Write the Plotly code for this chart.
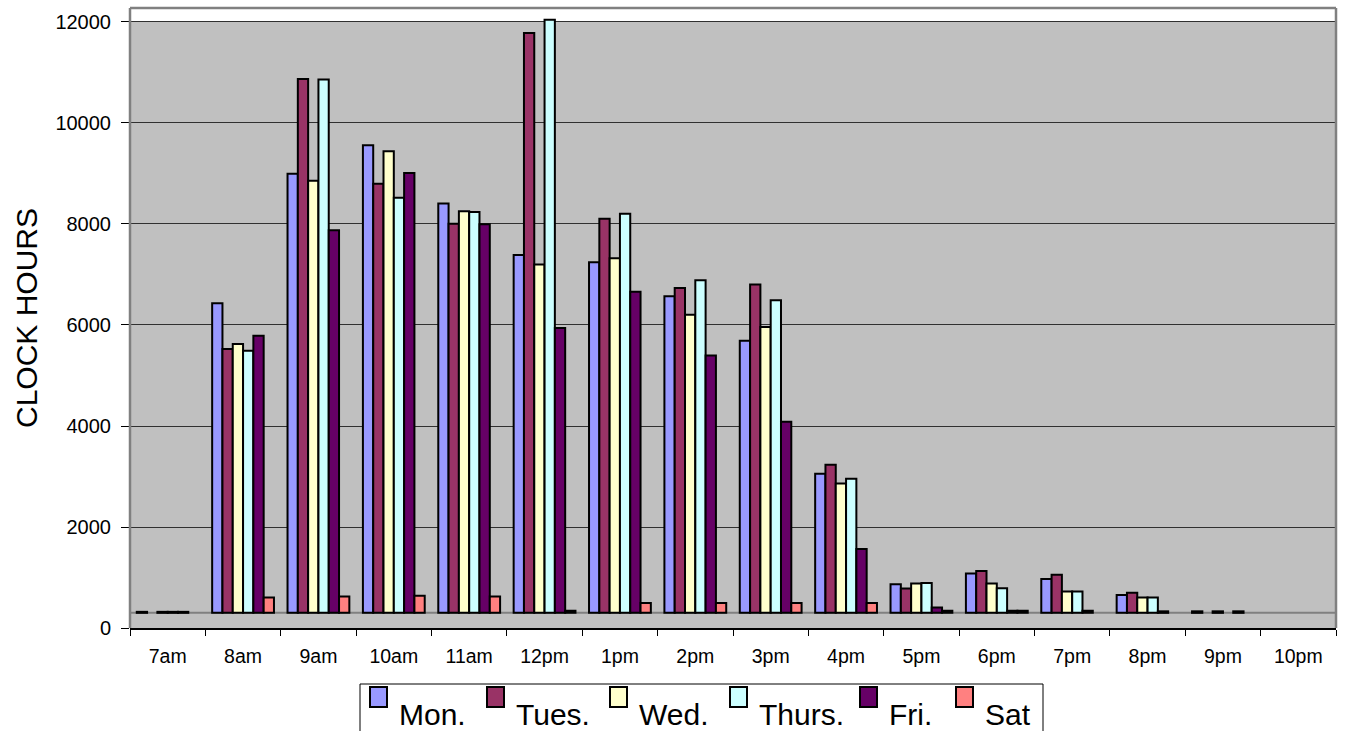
import plotly.graph_objects as go

# Hour-of-day categories and clock hours per weekday
HOURS = ["7am", "8am", "9am", "10am", "11am", "12pm", "1pm", "2pm",
         "3pm", "4pm", "5pm", "6pm", "7pm", "8pm", "9pm", "10pm"]

DAYS = ["Mon.", "Tues.", "Wed.", "Thurs.", "Fri.", "Sat"]

MON = [320, 6430, 8995, 9560, 8405, 7385, 7240, 6570, 5690, 3055, 865, 1080, 970, 655, 330, None]
TUES = [None, 5525, 10870, 8795, 8005, 11780, 8105, 6735, 6800, 3235, 780, 1130, 1055, 700, None, None]
WED = [320, 5625, 8855, 9440, 8250, 7200, 7320, 6205, 5960, 2860, 880, 880, 725, 605, 330, None]
THURS = [320, 5490, 10860, 8520, 8235, 12045, 8205, 6885, 6490, 2955, 890, 785, 725, 605, None, None]
FRI = [320, 5785, 7875, 9010, 7995, 5940, 6660, 5395, 4085, 1565, 405, 340, 340, 330, 330, None]
SAT = [None, 605, 625, 640, 625, 340, 495, 495, 495, 495, 340, 340, None, None, None, None]

Y_TICKS = [0, 2000, 4000, 6000, 8000, 10000, 12000]

SERIES = [MON, TUES, WED, THURS, FRI, SAT]
COLORS = ["#9999FF", "#993366", "#FFFFCC", "#CCFFFF", "#660066", "#FF8080"]

FLOOR = 300          # columns stand on the chart floor
Y_TOP = 12277        # headroom above the 12000 gridline
FONT = "Liberation Sans, Arial, sans-serif"

W, H = 1346, 731
ML, MR, MT, MB = 130, 10, 8, 103

fig = go.Figure()
for name, vals, color in zip(DAYS, SERIES, COLORS):
    fig.add_bar(
        x=HOURS,
        y=[None if v is None else v - FLOOR for v in vals],
        base=FLOOR,
        name=name,
        showlegend=False,
        marker=dict(color=color, line=dict(color="black", width=2)),
    )


def px_x(p):
    return (p - ML) / (W - ML - MR)


def px_y(p):
    return (H - MB - p) / (H - MT - MB)


shapes = [
    # white band above the top gridline
    dict(type="rect", xref="paper", yref="y", x0=0, x1=1, y0=12000, y1=Y_TOP,
         fillcolor="white", line=dict(width=0), layer="below"),
    # floor edge
    dict(type="line", xref="paper", yref="y", x0=0, x1=1, y0=FLOOR, y1=FLOOR,
         line=dict(color="#808080", width=2), layer="below"),
    # plot frame (left, top, right)
    dict(type="line", xref="paper", yref="paper", x0=0, x1=0, y0=0, y1=1,
         line=dict(color="#808080", width=2.5), layer="above"),
    dict(type="line", xref="paper", yref="paper", x0=0, x1=1, y0=1, y1=1,
         line=dict(color="#808080", width=2.5), layer="above"),
    dict(type="line", xref="paper", yref="paper", x0=1, x1=1, y0=0, y1=1,
         line=dict(color="#808080", width=2.5), layer="above"),
    # legend box
    dict(type="rect", xref="paper", yref="paper",
         x0=px_x(360), x1=px_x(1043), y0=px_y(745), y1=px_y(684),
         fillcolor="white", line=dict(color="black", width=1)),
]

annotations = []
LEGEND_X = [370, 487, 610, 730, 860, 956]
for lx, name, color in zip(LEGEND_X, DAYS, COLORS):
    shapes.append(dict(type="rect", xref="paper", yref="paper",
                       x0=px_x(lx), x1=px_x(lx + 17), y0=px_y(707), y1=px_y(687),
                       fillcolor=color, line=dict(color="black", width=2)))
    annotations.append(dict(xref="paper", yref="paper", x=px_x(lx + 27), y=px_y(714),
                            xanchor="left", yanchor="middle", showarrow=False,
                            text=name, font=dict(family=FONT, size=30, color="black")))

fig.update_layout(
    width=W, height=H,
    margin=dict(l=ML, r=MR, t=MT, b=MB, pad=0),
    paper_bgcolor="white",
    plot_bgcolor="#C0C0C0",
    barmode="group",
    bargap=0.18,
    bargroupgap=0,
    font=dict(family=FONT, size=20, color="black"),
    shapes=shapes,
    annotations=annotations,
    xaxis=dict(
        type="category",
        tickson="boundaries",
        ticks="outside", ticklen=6, tickcolor="black", tickwidth=1,
        ticklabelstandoff=10,
        showline=True, linecolor="black", linewidth=1.5,
        showgrid=False,
        tickfont=dict(family=FONT, size=19.5, color="black"),
    ),
    yaxis=dict(
        range=[0, Y_TOP],
        tickvals=Y_TICKS,
        ticktext=[str(t) for t in Y_TICKS],
        ticks="outside", ticklen=8, tickcolor="black", tickwidth=1,
        ticklabelstandoff=6,
        showgrid=True, gridcolor="#303030", gridwidth=1,
        zeroline=False, showline=False,
        tickfont=dict(family=FONT, size=20, color="black"),
        title=dict(text="CLOCK HOURS", standoff=8,
                   font=dict(family=FONT, size=30, color="black")),
    ),
)

fig.write_html("out.html")
